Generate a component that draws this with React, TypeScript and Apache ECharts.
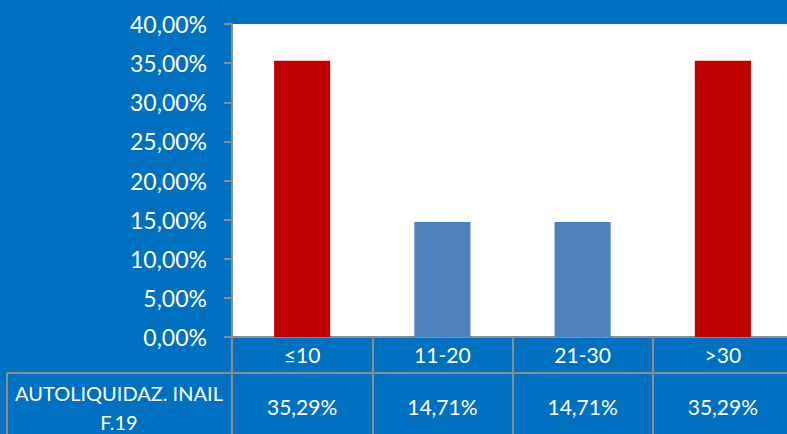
import React, { useEffect, useRef } from "react";
import * as echarts from "echarts";

const categories = ["≤10", "11-20", "21-30", ">30"];
const values = [35.29, 14.71, 14.71, 35.29];
const barColors = ["#C00000", "#4F81BD", "#4F81BD", "#C00000"];
const rowLabel = "AUTOLIQUIDAZ. INAIL\nF.19";
const yMax = 40;
const yStep = 5;

const fmt = (v: number) => v.toFixed(2).replace(".", ",") + "%";

const BG = "#0070C0";
const LINE = "#8C8C8C";
const FONT = "Lato";

export default function App() {
  const ref = useRef<HTMLDivElement>(null);
  useEffect(() => {
    if (!ref.current) return;
    const chart = echarts.init(ref.current, undefined, { renderer: "svg" });
    chart.setOption({
      animation: false,
      backgroundColor: BG,
      textStyle: { fontFamily: FONT },
      grid: {
        left: 232,
        top: 24,
        width: 561,
        height: 313,
        show: true,
        backgroundColor: "#FFFFFF",
        borderWidth: 0,
      },
      xAxis: [
        {
          type: "category",
          data: categories,
          position: "bottom",
          axisLine: { show: true, lineStyle: { color: LINE, width: 2 } },
          axisTick: {
            show: true,
            interval: 0,
            alignWithLabel: false,
            length: 100,
            lineStyle: { color: LINE, width: 2 },
          },
          axisLabel: {
            interval: 0,
            color: "#FFFFFF",
            fontSize: 21,
            fontFamily: FONT,
            margin: 7,
          },
        },
        {
          type: "category",
          data: categories,
          position: "bottom",
          axisLine: { show: false },
          axisTick: { show: false },
          axisLabel: {
            interval: 0,
            color: "#FFFFFF",
            fontSize: 21,
            fontFamily: FONT,
            margin: 59,
            formatter: (_: string, i: number) => fmt(values[i]),
          },
        },
      ],
      yAxis: {
        type: "value",
        min: 0,
        max: yMax,
        interval: yStep,
        axisLine: { show: true, lineStyle: { color: LINE, width: 2 } },
        axisTick: { show: true, length: 8, lineStyle: { color: LINE, width: 2 } },
        splitLine: { show: false },
        axisLabel: {
          color: "#FFFFFF",
          fontSize: 23,
          fontFamily: FONT,
          margin: 25,
          formatter: (v: number) => fmt(v),
        },
      },
      series: [
        {
          type: "bar",
          xAxisIndex: 0,
          barWidth: "40%",
          data: values.map((v, i) => ({ value: v, itemStyle: { color: barColors[i] } })),
        },
      ],
      graphic: [
        {
          type: "line",
          shape: { x1: 7, y1: 373, x2: 800, y2: 373 },
          style: { stroke: LINE, lineWidth: 2 },
          z: 10,
        },
        {
          type: "line",
          shape: { x1: 7, y1: 373, x2: 7, y2: 440 },
          style: { stroke: LINE, lineWidth: 2 },
          z: 10,
        },
        {
          type: "text",
          x: 119,
          y: 407,
          style: {
            text: rowLabel,
            fill: "#FFFFFF",
            font: `20px ${FONT}`,
            align: "center",
            verticalAlign: "middle",
            lineHeight: 29,
          },
          z: 10,
        },
      ],
    });
    return () => chart.dispose();
  }, []);
  return (
    <div
      style={{ position: "fixed", left: 0, top: 0, width: 787, height: 434, overflow: "hidden" }}
    >
      <div ref={ref} style={{ width: 810, height: 434 }} />
    </div>
  );
}
